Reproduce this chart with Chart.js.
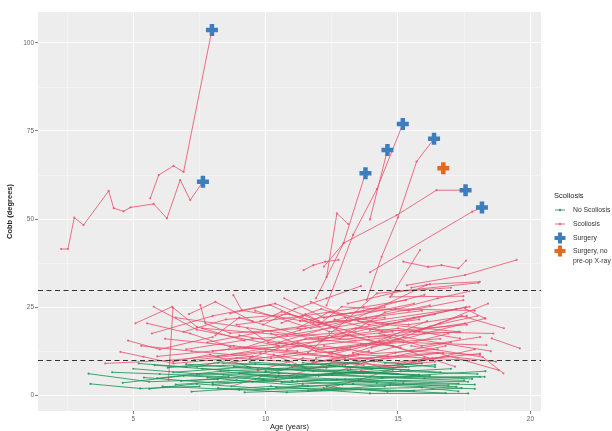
<!DOCTYPE html>
<html>
<head>
<meta charset="utf-8">
<script src="https://cdn.jsdelivr.net/npm/chart.js@4/dist/chart.umd.min.js"></script>
<style>
  html, body { margin: 0; padding: 0; background: #fff; }
</style>
</head>
<body>
<canvas id="cobbChart" width="612" height="431"></canvas>
<script>
// Cobb angle vs age, one line per patient: [age (years), cobb (degrees)]
const scoliosisPatients = [
  [[2.27,41.5],[2.53,41.5],[2.77,50.4],[3.12,48.3],[4.07,58.0],[4.26,53.1],[4.63,52.2],[4.89,53.3],[5.77,54.3],[6.27,50.2],[6.77,61.1],[7.15,55.4],[7.63,60.6]],
  [[5.64,55.9],[5.96,62.5],[6.52,65.1],[6.9,63.4],[7.97,103.7]],
  [[12.3,25.5],[13.3,45.5],[14.2,58.5],[15.18,77.0]],
  [[13.94,49.9],[14.6,69.6]],
  [[11.9,27.5],[12.94,43.1],[13.77,63.0]],
  [[13.82,27],[14.38,39.3],[15.0,50.5],[15.7,66.3],[16.36,72.8]],
  [[12.2,36.5],[12.95,43.2],[14.95,51.1],[16.45,58.2],[17.55,58.2]],
  [[13.94,34.9],[17.8,52.1],[18.17,53.3]],
  [[11.43,35.5],[11.8,36.9],[12.25,37.9],[12.75,38.4]],
  [[12.3,33.5],[12.69,51.6],[13.12,48.6]],
  [[15.2,37.9],[16.14,36.4],[16.64,36.9],[17.28,36.0],[17.57,38.2]],
  [[15.33,31.2],[17.53,34.1],[19.48,38.4]],
  [[15.5,30.5],[16.2,31.5],[18.09,32.2]],
  [[14.7,27.9],[17.47,28.1]],
  [[14.76,28.4],[15.83,41.2]],
  [[17.53,24.6],[18.28,21.8]],
  [[18.54,16.1],[19.6,13.3]],
  [[5.08,20.4],[6.46,25.1],[7.4,19.4],[9.2,15.5]],
  [[5.77,25.1],[7.4,18.6],[10.5,14]],
  [[5.52,20.4],[7.15,17.5],[8.66,13.7],[11.2,12.5]],
  [[6.33,4.3],[6.5,24.8]],
  [[7.53,25.6],[7.72,20.4],[8.66,17.6],[11.5,19]],
  [[8.78,28.4],[9.1,24.1],[11.8,20.5],[14.5,22]],
  [[4.51,12.3],[5.39,10.9],[6.52,9],[9.5,11]],
  [[3.94,9.0],[6.4,9.9],[10.0,12.5],[13.0,10.5]],
  [[5.7,17.5],[8.0,22.5],[10.36,26],[12.0,21]],
  [[8.66,23.2],[10.17,25.6],[12.4,18],[15.8,21.5]],
  [[9.8,21],[10.6,23.7],[13.9,16.5],[17.34,18.0]],
  [[11.2,19],[12.43,23.7],[14.6,20],[17.28,18.0]],
  [[12.0,20],[12.87,25.1],[15.4,24],[17.47,27.0]],
  [[10.5,15],[13.2,21],[16.08,31.3]],
  [[11.6,12],[14.2,28.9],[18.04,31.9]],
  [[7.0,13],[9.5,16],[13.4,18],[17.58,25.1]],
  [[8.2,11],[11.0,14.5],[14.5,17],[17.53,20.4]],
  [[9.0,17],[12.0,13],[15.2,15],[18.34,14.2]],
  [[6.2,16],[8.8,14],[12.5,11],[16.5,13]],
  [[13.0,10],[16.5,12],[18.8,7.1]],
  [[14.5,9],[16.3,10.5],[18.1,11.8]],
  [[15.5,14],[18.2,10.8],[18.98,6.2]],
  [[13.94,18.5],[15.6,22],[17.7,25.1]],
  [[7.6,19],[10.8,17],[14.0,21],[17.2,24.5]],
  [[9.4,10.5],[11.5,16],[14.8,14],[17.15,8.1]],
  [[11.0,8],[13.5,11.5],[17.7,9.9]],
  [[12.2,14],[14.0,12],[16.9,17.5]],
  [[8.9,20],[11.4,22.5],[13.7,25],[15.3,27]],
  [[10.8,13],[12.5,16.5],[15.0,19],[17.34,16.1]],
  [[6.6,22],[9.0,19.5],[12.0,16],[14.8,18]],
  [[7.8,15],[9.9,18],[12.3,20.5],[15.9,24]],
  [[5.3,14],[7.2,12.5],[10.2,10.5],[13.2,13]],
  [[9.6,24],[11.7,19],[13.8,22],[16.2,25.5]],
  [[11.5,23],[13.1,17],[15.5,12.5],[18.1,11.4]],
  [[12.6,21.5],[14.4,18],[17.6,20]],
  [[10.2,17.5],[11.9,12.5],[14.2,10],[16.8,14]],
  [[8.4,9],[10.7,11.5],[13.6,14.5],[16.6,16]],
  [[13.3,12],[15.2,16.5],[18.5,12.5]],
  [[9.2,13.5],[11.3,18.5],[13.0,22],[15.6,26]],
  [[7.3,10],[9.8,12],[11.8,9.5],[14.6,11]],
  [[12.9,8.5],[14.9,12],[17.0,15]],
  [[10.6,20.5],[12.1,24.5],[13.9,20],[16.4,23]],
  [[11.9,10.5],[13.8,14],[16.2,19.5],[18.0,22.5]],
  [[6.9,18],[8.5,21.5],[10.9,23],[12.7,19]],
  [[14.0,13.5],[16.0,17.5],[18.3,21.8]],
  [[8.0,12.5],[10.4,14.5],[12.9,17.5],[15.1,13.5]],
  [[12.4,6],[14.1,10],[16.7,12]],
  [[10.9,5.5],[12.6,9.5],[15.4,8]],
  [[13.6,7],[15.8,9.5],[17.9,13]],
  [[9.7,7],[11.4,10.5],[13.7,8.5]],
  [[11.2,15],[12.4,12],[14.3,15.5],[16.1,21]],
  [[5.9,11],[8.6,13],[11.7,14],[14.7,16.5]],
  [[4.8,15.5],[6.0,13],[8.0,16.5]],
  [[7.1,23],[8.1,26.5],[9.5,21]],
  [[10.7,27.5],[12.2,22],[14.5,25]],
  [[13.1,26],[15.1,29.5],[17.0,30.5]],
  [[12.1,15.5],[13.4,19],[15.8,18],[18.6,17.5]],
  [[14.7,15],[16.6,20.5],[18.4,26]],
  [[15.6,18],[17.4,22.5],[19.0,19]],
  [[9.3,19],[10.1,15],[12.7,13],[15.0,16]],
  [[8.1,17],[9.0,22],[11.1,17.5],[13.4,15.5]],
  [[11.7,26.5],[12.9,23],[14.9,24.5],[17.9,24]],
  [[10.3,11.5],[11.6,7.5],[13.1,9]],
  [[6.5,9.5],[7.9,11.5],[9.4,8]],
  [[12.8,16],[14.5,23.5],[16.5,27.5],[17.7,29.5]],
  [[13.5,21],[15.4,20],[17.6,22.5]],
  [[11.3,21],[13.7,24],[16.0,28.5]],
  [[7.4,8],[8.9,10.5],[10.9,9.5]],
  [[14.3,17.5],[15.9,14],[18.1,16.5]],
  [[15.0,9],[16.9,11],[18.7,9.5]],
  [[9.9,20],[11.1,24.5],[12.3,27.5],[13.6,31]],
  [[12.5,12],[14.3,8],[16.4,9.5]],
  [[8.7,2.5],[11.0,8],[13.9,12.5]],
  [[12.1,1.5],[13.6,4.5],[16.0,10.5]]
];

const noScoliosisPatients = [
  [[3.31,6.1],[5.6,3.8],[8.2,4.5]],
  [[3.38,3.2],[5.26,1.9],[7.5,2.5]],
  [[5.0,7.5],[7.5,6],[10.5,5.5],[13.8,6.5]],
  [[5.4,5],[8.0,3.5],[11.0,4],[14.5,2.5]],
  [[5.8,8.5],[8.6,7],[11.5,7.5],[15.0,6]],
  [[6.1,2.5],[9.0,1.5],[12.2,2],[15.6,1.2]],
  [[6.5,6.5],[9.3,8],[12.6,6.5],[16.2,5.5]],
  [[6.8,4],[9.8,5.5],[13.0,4.5],[17.28,3.3]],
  [[7.2,1],[10.2,2.5],[13.94,0.5],[17.65,0.5]],
  [[7.6,7.5],[10.5,6.2],[13.94,5.2],[18.27,5.2]],
  [[8.0,3],[11.0,4.8],[14.2,3.5],[17.2,2.4]],
  [[8.4,5.8],[11.4,3.2],[14.9,4.2],[17.65,3.8]],
  [[8.8,8.2],[11.8,6.8],[15.3,8]],
  [[9.2,0.8],[12.1,1.5],[15.9,2.2],[17.28,1.1]],
  [[9.6,4.6],[12.5,5.8],[16.0,4.8],[18.1,5.2]],
  [[10.0,6.8],[13.0,8.2],[16.6,6.5]],
  [[4.6,3.5],[6.9,5.5],[9.9,4.5]],
  [[5.2,9],[7.0,8],[9.6,8.8],[12.3,7.8]],
  [[10.4,2.2],[13.3,3.2],[16.9,2.8]],
  [[10.8,7.4],[13.7,6.2],[17.0,7.5]],
  [[11.2,4],[14.4,5],[17.5,4.2]],
  [[11.6,1.2],[14.7,2.8],[17.9,1.8]],
  [[12.0,5.5],[15.1,6.8],[18.0,6]],
  [[6.3,7.8],[8.2,9.2],[10.9,8.5],[13.5,9]],
  [[7.8,5],[9.5,3.8],[11.9,5.6]],
  [[12.4,8.5],[14.0,7.4],[16.4,8.6]],
  [[5.6,1.8],[7.4,3.2],[10.1,1.8],[12.9,3]],
  [[9.0,6.2],[11.2,5.4],[13.4,6.6],[15.8,5.8]],
  [[7.0,8.8],[9.7,7.4],[12.8,8.2],[15.4,7.2]],
  [[4.2,6.5],[6.0,6],[8.6,5.2]],
  [[10.6,3.6],[12.7,4.4],[15.2,3.4],[17.9,3]],
  [[8.2,2],[10.8,0.8],[13.6,1.6],[16.8,0.6]],
  [[13.1,7],[15.6,5.6],[18.3,6.8]],
  [[6.6,3],[8.9,4.2],[11.6,2.6]],
  [[11.4,9.2],[13.2,7.8],[15.9,9]],
  [[9.4,9.4],[11.1,8.6],[14.1,9.6],[16.4,8]],
  [[12.3,2.4],[14.6,1],[17.4,2]],
  [[5.9,4.8],[8.3,6.8],[10.4,5]],
  [[7.4,6],[10.0,6.6],[12.0,5.8],[14.8,7.2]],
  [[13.5,4.2],[15.5,5.4],[17.8,4.6]]
];

const surgeryPoints = [[7.97,103.7],[7.63,60.6],[15.18,77.0],[14.6,69.6],[13.77,63.0],[16.36,72.8],[17.55,58.2],[18.17,53.3]];
const surgeryNoXrayPoints = [[16.71,64.4]];

const thresholdLines = [10, 30];
const yMajorTicks = [0, 25, 50, 75, 100];
const yGridTicks = [0, 12.5, 25, 37.5, 50, 62.5, 75, 87.5, 100];
const xMajorTicks = [5, 10, 15, 20];
const xGridTicks = [2.5, 5, 7.5, 10, 12.5, 15, 17.5, 20];

const legendTitle = "Scoliosis";
const legendLabels = ["No Scoliosis", "Scoliosis", "Surgery", ["Surgery, no", "pre-op X-ray"]];

const RED = "rgba(234, 78, 106, 0.8)";
const GREEN = "rgba(30, 150, 88, 0.85)";
const BLUE = "#3d7dbd";
const ORANGE = "#e2691d";
const FONT = '"Liberation Sans", Arial, sans-serif';

const toXY = (pts) => pts.map((p) => ({ x: p[0], y: p[1] }));

function patientDataset(pts, color, order) {
  return {
    type: "line",
    data: toXY(pts),
    borderColor: color,
    backgroundColor: color,
    borderWidth: 1,
    pointRadius: 1.1,
    pointBorderWidth: 0,
    pointBackgroundColor: color,
    tension: 0,
    fill: false,
    order,
  };
}

function plusDataset(pts, color) {
  return {
    type: "scatter",
    data: toXY(pts),
    pointStyle: "cross",
    pointRadius: 6,
    pointBorderWidth: 4.5,
    borderColor: color,
    backgroundColor: color,
    order: 0,
  };
}

const datasets = [
  ...scoliosisPatients.map((p) => patientDataset(p, RED, 2)),
  ...noScoliosisPatients.map((p) => patientDataset(p, GREEN, 1)),
  plusDataset(surgeryPoints, BLUE),
  plusDataset(surgeryNoXrayPoints, ORANGE),
];

// grey ggplot panel
const panelBg = {
  id: "panelBg",
  beforeDraw(chart) {
    const { ctx, chartArea: a } = chart;
    ctx.save();
    ctx.fillStyle = "#ededed";
    ctx.fillRect(a.left, a.top, a.right - a.left, a.bottom - a.top);
    ctx.restore();
  },
};

// dashed reference lines at 10 and 30 degrees
const thresholds = {
  id: "thresholds",
  afterDatasetsDraw(chart) {
    const { ctx, chartArea: a, scales } = chart;
    ctx.save();
    ctx.strokeStyle = "#333";
    ctx.lineWidth = 1.1;
    ctx.setLineDash([5, 3.5]);
    thresholdLines.forEach((v) => {
      const y = Math.round(scales.y.getPixelForValue(v)) + 0.5;
      ctx.beginPath();
      ctx.moveTo(a.left, y);
      ctx.lineTo(a.right, y);
      ctx.stroke();
    });
    ctx.restore();
  },
};

function drawPlus(ctx, x, y, color) {
  ctx.strokeStyle = color;
  ctx.lineWidth = 4;
  ctx.beginPath();
  ctx.moveTo(x - 5.5, y); ctx.lineTo(x + 5.5, y);
  ctx.moveTo(x, y - 5.5); ctx.lineTo(x, y + 5.5);
  ctx.stroke();
}

function drawLineKey(ctx, x, y, color) {
  ctx.strokeStyle = color;
  ctx.fillStyle = color;
  ctx.lineWidth = 1;
  ctx.beginPath();
  ctx.moveTo(x - 5, y); ctx.lineTo(x + 5, y);
  ctx.stroke();
  ctx.beginPath();
  ctx.arc(x, y, 1.2, 0, Math.PI * 2);
  ctx.fill();
}

// right side legend like ggplot
const sideLegend = {
  id: "sideLegend",
  afterDraw(chart) {
    const ctx = chart.ctx;
    ctx.save();
    ctx.textBaseline = "middle";
    ctx.fillStyle = "#222";
    ctx.font = "7.5px " + FONT;
    ctx.fillText(legendTitle, 554, 196);
    const rows = [210, 224, 238, 251];
    const keyX = 560;
    drawLineKey(ctx, keyX, rows[0], GREEN);
    drawLineKey(ctx, keyX, rows[1], RED);
    drawPlus(ctx, keyX, rows[2], BLUE);
    drawPlus(ctx, keyX, rows[3], ORANGE);
    ctx.fillStyle = "#333";
    ctx.font = "6.8px " + FONT;
    legendLabels.forEach((lab, i) => {
      const lines = Array.isArray(lab) ? lab : [lab];
      lines.forEach((t, j) => ctx.fillText(t, 573, rows[i] + j * 10));
    });
    ctx.restore();
  },
};

new Chart(document.getElementById("cobbChart"), {
  type: "line",
  data: { datasets },
  plugins: [panelBg, thresholds, sideLegend],
  options: {
    responsive: false,
    animation: false,
    layout: { padding: { left: 4, right: 71, top: 12, bottom: 0 } },
    plugins: { legend: { display: false }, tooltip: { enabled: false } },
    scales: {
      x: {
        type: "linear",
        min: 1.4,
        max: 20.4,
        afterBuildTicks: (s) => { s.ticks = xGridTicks.map((v) => ({ value: v })); },
        afterFit: (s) => { s.height = 20; },
        border: { display: false },
        grid: {
          color: "#ffffff",
          lineWidth: (c) => (xMajorTicks.includes(c.tick && c.tick.value) ? 1.1 : 0.4),
          tickColor: (c) => (xMajorTicks.includes(c.tick && c.tick.value) ? "#555" : "rgba(0,0,0,0)"),
          tickWidth: 0.8,
          tickLength: 3,
        },
        ticks: {
          autoSkip: false,
          maxRotation: 0,
          padding: 1,
          color: "#666",
          font: { family: FONT, size: 6.5 },
          callback: (v) => (xMajorTicks.includes(v) ? String(v) : ""),
        },
        title: {
          display: true,
          text: "Age (years)",
          color: "#222",
          font: { family: FONT, size: 7.5 },
          padding: { top: 0, bottom: 0 },
        },
      },
      y: {
        type: "linear",
        min: -4.5,
        max: 108.8,
        afterBuildTicks: (s) => { s.ticks = yGridTicks.map((v) => ({ value: v })); },
        afterFit: (s) => { s.width = 34; },
        border: { display: false },
        grid: {
          color: "#ffffff",
          lineWidth: (c) => (yMajorTicks.includes(c.tick && c.tick.value) ? 1.1 : 0.4),
          tickColor: (c) => (yMajorTicks.includes(c.tick && c.tick.value) ? "#555" : "rgba(0,0,0,0)"),
          tickWidth: 0.8,
          tickLength: 3,
        },
        ticks: {
          autoSkip: false,
          padding: 1,
          color: "#666",
          font: { family: FONT, size: 6.5 },
          callback: (v) => (yMajorTicks.includes(v) ? String(v) : ""),
        },
        title: {
          display: true,
          text: "Cobb (degrees)",
          color: "#222",
          font: { family: FONT, size: 7.5, weight: "bold" },
          padding: { top: 1, bottom: 0 },
        },
      },
    },
  },
});
</script>
</body>
</html>
